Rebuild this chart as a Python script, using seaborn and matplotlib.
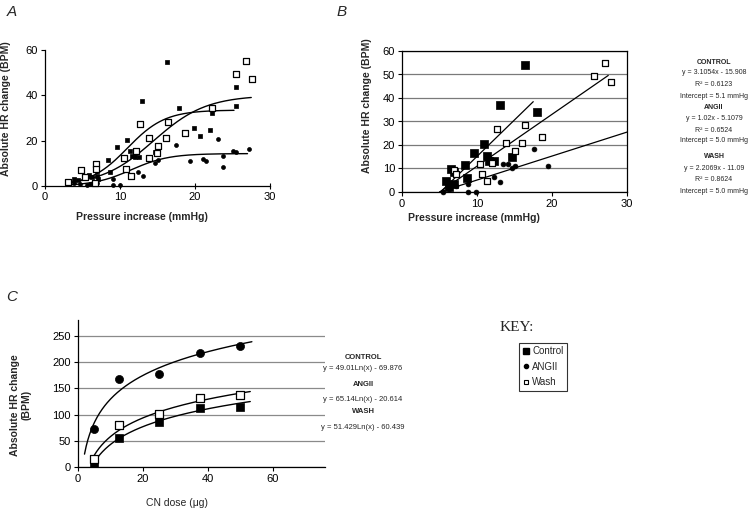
import numpy as np
import matplotlib
matplotlib.use('Agg')
import matplotlib.pyplot as plt
import seaborn as sns
from matplotlib.lines import Line2D

sns.set_theme(style='white')
plt.rcParams['font.family'] = ['Liberation Sans', 'DejaVu Sans']

# ---------------- Panel A data (sigmoid fits) ----------------
a_ctrl_x = [16.2, 12.9, 17.9, 25.4, 25.4, 22.3, 19.8, 20.6, 22.0, 10.9, 9.6, 11.3, 11.6, 12.0,
            12.5, 14.6, 8.4, 8.6, 6.9, 6.9, 6.9, 7.1, 5.8, 5.2, 3.8, 4.4, 6.2]
a_ctrl_y = [54.5, 37.5, 34.2, 43.5, 35.5, 32.0, 25.8, 22.0, 24.5, 20.5, 17.0, 15.5, 13.2, 13.0,
            13.0, 14.8, 11.5, 6.0, 9.0, 6.5, 4.5, 3.0, 5.0, 4.5, 3.2, 2.5, 3.8]
a_ang_x = [27.2, 25.0, 25.4, 23.7, 23.7, 23.0, 21.1, 21.5, 19.3, 17.5, 15.1, 14.6, 13.8, 13.1,
           12.4, 9.0, 9.0, 10.0, 6.9, 6.0, 3.8, 5.6, 4.6]
a_ang_y = [16.5, 15.5, 15.0, 13.3, 8.2, 20.8, 12.0, 11.0, 11.0, 18.0, 11.5, 10.0, 11.5, 4.2,
           6.0, 3.2, 0.3, 0.3, 1.5, 1.0, 1.3, 0.4, 0.8]
a_wash_x = [26.8, 25.4, 27.6, 22.3, 16.4, 12.7, 18.7, 16.1, 13.8, 15.1, 12.1, 10.5, 13.8, 14.9,
            10.8, 11.4, 6.8, 6.8, 4.8, 3.1, 6.7, 5.3]
a_wash_y = [55.3, 49.4, 47.0, 34.2, 28.3, 27.3, 23.5, 21.2, 21.2, 17.6, 15.3, 12.4, 12.4, 14.6,
            7.7, 4.3, 9.9, 7.7, 6.9, 1.8, 1.2, 4.0]
# sigmoid fit parameters: plateau, midpoint, slope, x range
a_fit_top = [33.5, 40.0, 14.3]
a_fit_mid = [11.0, 14.5, 11.5]
a_fit_k = [2.5, 3.5, 2.5]
a_fit_x0 = [3.0, 3.0, 3.0]
a_fit_x1 = [25.2, 27.5, 27.0]

# ---------------- Panel B data (linear fits) ----------------
b_ctrl_x = [16.4, 13.0, 18.0, 10.9, 9.6, 11.3, 11.6, 12.3, 14.6, 8.4, 8.6, 6.5, 6.9, 6.9, 5.8, 6.2]
b_ctrl_y = [54.2, 37.0, 34.2, 20.3, 16.7, 15.3, 13.0, 13.0, 14.8, 11.3, 6.0, 9.9, 8.4, 3.2, 4.8, 2.0]
b_ang_x = [17.6, 19.5, 13.4, 14.1, 15.0, 14.6, 12.2, 13.0, 8.8, 7.2, 6.3, 5.5, 8.8, 9.9]
b_ang_y = [18.2, 11.0, 11.8, 12.0, 11.2, 10.0, 6.5, 4.4, 3.5, 2.5, 1.2, 0.2, 0.2, 0.2]
b_wash_x = [27.0, 25.6, 27.8, 16.4, 12.7, 18.7, 13.9, 16.0, 15.0, 10.4, 12.0, 10.7, 11.3, 6.9, 7.2]
b_wash_y = [55.0, 49.2, 46.8, 28.5, 27.0, 23.5, 21.0, 21.0, 17.3, 12.1, 12.5, 7.5, 4.5, 9.5, 7.5]
b_slope = [3.1054, 1.02, 2.2069]
b_icpt = [-15.908, -5.1079, -11.09]
b_x0 = [5.12, 5.0, 5.03]
b_x1 = [17.5, 31.0, 27.5]
b_text = [("CONTROL", "y = 3.1054x - 15.908", "R² = 0.6123", "Intercept = 5.1 mmHg"),
          ("ANGII", "y = 1.02x - 5.1079", "R² = 0.6524", "Intercept = 5.0 mmHg"),
          ("WASH", "y = 2.2069x - 11.09", "R² = 0.8624", "Intercept = 5.0 mmHg")]

# ---------------- Panel C data (log fits) ----------------
c_dose = [5, 12.5, 25, 37.5, 50]
c_ctrl = [8, 55, 85, 113, 115]
c_ang = [73, 168, 178, 217, 230]
c_wash = [15, 80, 101, 132, 137]
c_a = [49.01, 65.14, 51.429]
c_b = [-69.876, -20.614, -60.439]
c_x0 = [4.6, 2.0, 4.3]
c_x1 = [53.0, 53.5, 53.0]
c_text = [("CONTROL", "y = 49.01Ln(x) - 69.876"),
          ("ANGII", "y = 65.14Ln(x) - 20.614"),
          ("WASH", "y = 51.429Ln(x) - 60.439")]

W, H = 750, 511
fig = plt.figure(figsize=(7.5, 5.11), dpi=100)


def axes_px(x0, x1, y_top, y_bot):
    return fig.add_axes([x0 / W, 1 - y_bot / H, (x1 - x0) / W, (y_bot - y_top) / H])


def style_axes(ax):
    for s in ax.spines.values():
        s.set_color('black')
        s.set_linewidth(0.9)
    ax.tick_params(axis='both', which='both', bottom=True, left=True, length=3, width=0.8,
                   color='black', labelsize=8, pad=2, labelcolor='black')


def filled_sq(ax, x, y, s):
    sns.scatterplot(x=x, y=y, ax=ax, marker='s', s=s, color='black', edgecolor='black',
                    linewidth=0.5, clip_on=False, zorder=4, legend=False)


def open_sq(ax, x, y, s):
    sns.scatterplot(x=x, y=y, ax=ax, marker='s', s=s, color='white', edgecolor='black',
                    linewidth=0.9, clip_on=False, zorder=5, legend=False)


def dots(ax, x, y, s):
    sns.scatterplot(x=x, y=y, ax=ax, marker='o', s=s, color='black', edgecolor='black',
                    linewidth=0.5, clip_on=False, zorder=4, legend=False)


# ---------------- Panel A ----------------
axA = axes_px(45, 270, 50, 186)
style_axes(axA)
for i in range(3):
    xx = np.linspace(a_fit_x0[i], a_fit_x1[i], 200)
    yy = a_fit_top[i] / (1 + np.exp(-(xx - a_fit_mid[i]) / a_fit_k[i]))
    sns.lineplot(x=xx, y=yy, ax=axA, color='black', lw=1.0, zorder=3)
filled_sq(axA, a_ctrl_x, a_ctrl_y, 10)
dots(axA, a_ang_x, a_ang_y, 8)
open_sq(axA, a_wash_x, a_wash_y, 22)
axA.set_xlim(0, 30)
axA.set_ylim(0, 60)
axA.set_xticks([0, 10, 20, 30])
axA.set_yticks([0, 20, 40, 60])
axA.spines['top'].set_visible(False)
axA.spines['right'].set_visible(False)
axA.tick_params(axis='x', direction='inout', length=5)
axA.set_xlabel('Pressure increase (mmHg)', fontsize=7.5, fontweight='bold')
axA.set_ylabel('Absolute HR change (BPM)', fontsize=7.5, fontweight='bold')
axA.xaxis.set_label_coords(0.43, -0.19)
axA.yaxis.set_label_coords(-0.15, 0.57)

# ---------------- Panel B ----------------
axB = axes_px(402, 627, 51, 192)
style_axes(axB)
axB.yaxis.grid(True, color='#7a7a7a', lw=0.9)
axB.set_axisbelow(True)
for i in range(3):
    xx = np.linspace(b_x0[i], b_x1[i], 50)
    yy = b_slope[i] * xx + b_icpt[i]
    sns.lineplot(x=xx, y=yy, ax=axB, color='black', lw=0.9, zorder=3)
filled_sq(axB, b_ctrl_x, b_ctrl_y, 36)
dots(axB, b_ang_x, b_ang_y, 12)
open_sq(axB, b_wash_x, b_wash_y, 16)
axB.set_xlim(0, 30)
axB.set_ylim(0, 60)
axB.set_xticks([0, 10, 20, 30])
axB.set_yticks([0, 10, 20, 30, 40, 50, 60])
axB.set_xlabel('Pressure increase (mmHg)', fontsize=7.5, fontweight='bold')
axB.set_ylabel('Absolute HR change (BPM)', fontsize=7.5, fontweight='bold')
axB.xaxis.set_label_coords(0.32, -0.15)
axB.yaxis.set_label_coords(-0.135, 0.61)

b_ypos = [[62, 73, 84, 96], [107, 118, 130, 141], [157, 168, 179, 191]]
for grp, ys in zip(b_text, b_ypos):
    for j, (t, yp) in enumerate(zip(grp, ys)):
        fig.text(714 / W, 1 - yp / H, t, ha='center', va='center', fontsize=5.0,
                 fontweight='bold' if j == 0 else 'normal')

# ---------------- Panel C ----------------
axC = axes_px(78, 325, 320, 467)
style_axes(axC)
axC.yaxis.grid(True, color='#8a8a8a', lw=0.9)
axC.set_axisbelow(True)
for i in range(3):
    xx = np.linspace(c_x0[i], c_x1[i], 200)
    yy = c_a[i] * np.log(xx) + c_b[i]
    sns.lineplot(x=xx, y=yy, ax=axC, color='black', lw=1.0, zorder=3)
filled_sq(axC, c_dose, c_ctrl, 26)
dots(axC, c_dose, c_ang, 34)
open_sq(axC, c_dose, c_wash, 34)
axC.set_xlim(0, 76)
axC.set_ylim(0, 280)
axC.set_xticks([0, 20, 40, 60])
axC.set_yticks([0, 50, 100, 150, 200, 250])
axC.spines['top'].set_visible(False)
axC.spines['right'].set_visible(False)
axC.set_xlabel('CN dose (\u03bcg)', fontsize=7.5)
axC.set_ylabel('Absolute HR change\n(BPM)', fontsize=7.5, fontweight='bold', linespacing=1.1)
axC.xaxis.set_label_coords(0.40, -0.21)
axC.yaxis.set_label_coords(-0.19, 0.42)

c_ypos = [[357, 368], [384, 399], [411, 427]]
for grp, ys in zip(c_text, c_ypos):
    for j, (t, yp) in enumerate(zip(grp, ys)):
        fig.text(363 / W, 1 - yp / H, t, ha='center', va='center', fontsize=5.5,
                 fontweight='bold' if j == 0 else 'normal')

# ---------------- Panel labels ----------------
for lab, (px, py) in zip(['A', 'B', 'C'], [(12, 12), (342, 12), (12, 297)]):
    fig.text(px / W, 1 - py / H, lab, ha='center', va='center', fontsize=11, style='italic')

# ---------------- Key ----------------
fig.text(500 / W, 1 - 327 / H, 'KEY:', ha='left', va='center', fontsize=11,
         family=['Liberation Serif', 'DejaVu Serif'])
handles = [Line2D([], [], ls='none', marker='s', ms=4, mfc='black', mec='black'),
           Line2D([], [], ls='none', marker='o', ms=3, mfc='black', mec='black'),
           Line2D([], [], ls='none', marker='s', ms=3.5, mfc='white', mec='black', mew=0.8)]
leg = fig.legend(handles, ['Control', 'ANGII', 'Wash'], loc='upper left',
                 bbox_to_anchor=(519 / W, 1 - 343 / H), fontsize=7, frameon=True,
                 fancybox=False, edgecolor='black', handlelength=0.7, handletextpad=0.3,
                 borderpad=0.35, labelspacing=0.55, borderaxespad=0)
leg.get_frame().set_linewidth(0.8)

fig.savefig('out.png', dpi=100, facecolor='white')
